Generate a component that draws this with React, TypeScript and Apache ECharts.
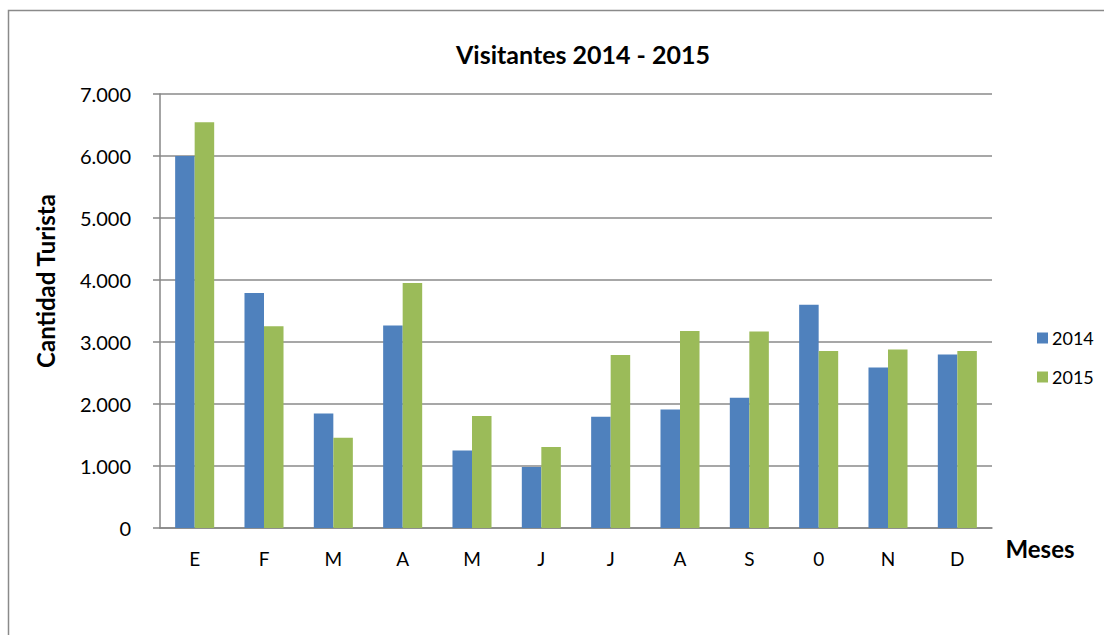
import React, { useEffect, useRef } from "react";
import * as echarts from "echarts";

const months = ["E", "F", "M", "A", "M", "J", "J", "A", "S", "0", "N", "D"];
const visitors2014 = [6000, 3790, 1845, 3265, 1250, 985, 1795, 1910, 2100, 3600, 2590, 2800];
const visitors2015 = [6545, 3255, 1455, 3950, 1805, 1308, 2790, 3178, 3170, 2855, 2880, 2855];
const yTicks = [0, 1000, 2000, 3000, 4000, 5000, 6000, 7000];

const FONT = "Lato, 'Open Sans', sans-serif";

export default function App() {
  const ref = useRef<HTMLDivElement>(null);
  useEffect(() => {
    const chart = echarts.init(ref.current!, null, { renderer: "svg" });
    chart.setOption({
      animation: false,
      backgroundColor: "#ffffff",
      title: {
        text: "Visitantes 2014 - 2015",
        left: 578,
        top: 36,
        textAlign: "center",
        textStyle: { fontFamily: FONT, fontSize: 25, fontWeight: "bold", color: "#000" },
      },
      legend: {
        orient: "vertical",
        left: 1032,
        top: 324,
        itemWidth: 11,
        itemHeight: 11,
        itemGap: 21,
        icon: "rect",
        textStyle: { fontFamily: FONT, fontSize: 18, color: "#000", padding: [0, 0, 0, -1] },
      },
      grid: { left: 160, right: 112, top: 94, bottom: 107, containLabel: false },
      xAxis: {
        type: "category",
        data: months,
        axisLine: { show: true, lineStyle: { color: "#868686", width: 1.5 } },
        axisTick: { show: false },
        axisLabel: { fontFamily: FONT, fontSize: 19, color: "#000", margin: 21 },
      },
      yAxis: {
        type: "value",
        min: yTicks[0],
        max: yTicks[yTicks.length - 1],
        interval: 1000,
        axisLine: { show: true, lineStyle: { color: "#868686", width: 1.5 } },
        axisTick: { show: true, length: 7, lineStyle: { color: "#868686", width: 1.5 } },
        splitLine: { show: true, lineStyle: { color: "#8a8a8a", width: 1.5 } },
        axisLabel: {
          fontFamily: FONT,
          fontSize: 20,
          color: "#000",
          margin: 29,
          formatter: (v: number) => (v >= 1000 ? (v / 1000).toFixed(0) + ".000" : String(v)),
        },
      },
      series: [
        {
          name: "2014",
          type: "bar",
          data: visitors2014,
          itemStyle: { color: "#4F81BD" },
          barGap: "0%",
          barCategoryGap: "43.7%",
        },
        {
          name: "2015",
          type: "bar",
          data: visitors2015,
          itemStyle: { color: "#9BBB59" },
          barGap: "0%",
          barCategoryGap: "43.7%",
        },
      ],
      graphic: [
        {
          type: "rect",
          shape: { x: 8.5, y: 10.5, width: 1110, height: 640 },
          style: { fill: "none", stroke: "#8a8a8a", lineWidth: 1.5 },
          silent: true,
        },
        {
          type: "text",
          x: 45,
          y: 281,
          rotation: Math.PI / 2,
          style: {
            text: "Cantidad Turista",
            fontFamily: FONT,
            fontSize: 24,
            fontWeight: "bold",
            fill: "#000",
            align: "center",
            verticalAlign: "middle",
          },
        },
        {
          type: "text",
          x: 1040,
          y: 548,
          style: {
            text: "Meses",
            fontFamily: FONT,
            fontSize: 24,
            fontWeight: "bold",
            fill: "#000",
            align: "center",
            verticalAlign: "middle",
          },
        },
      ],
    });
    return () => chart.dispose();
  }, []);
  return (
    <div
      ref={ref}
      style={{ position: "fixed", left: 0, top: 0, width: 1104, height: 635 }}
    />
  );
}
